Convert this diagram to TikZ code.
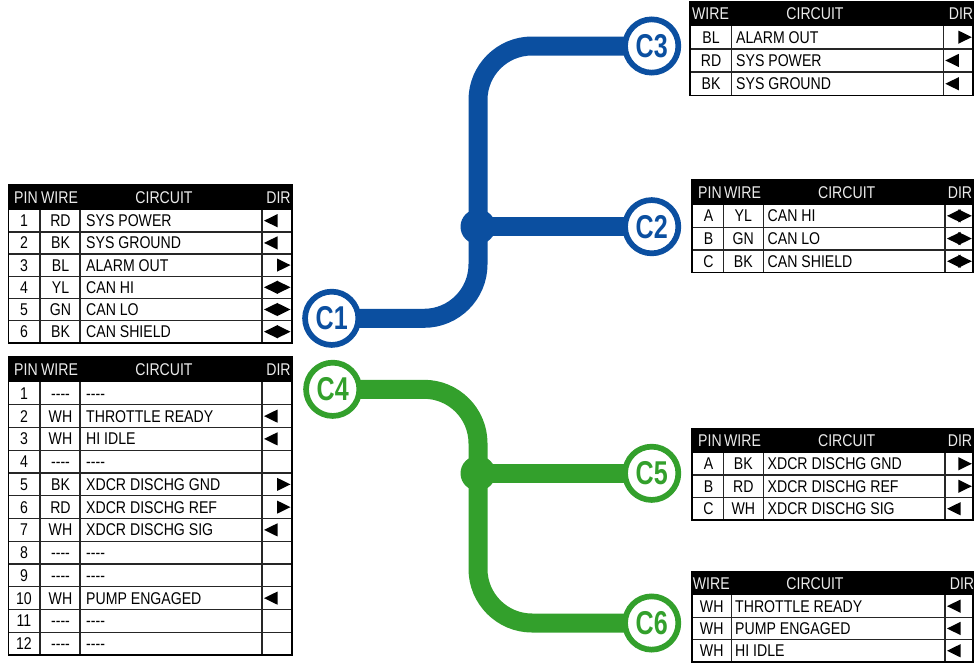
\documentclass[tikz,border=0pt]{standalone}
\usepackage{fontspec}
\newfontfamily\tabfont[FakeStretch=0.83]{Liberation Sans}
\newfontfamily\labfont[FakeStretch=0.76]{Liberation Sans}
\usetikzlibrary{backgrounds}
\definecolor{busblue}{RGB}{11,79,160}
\definecolor{busgreen}{RGB}{51,160,44}
\definecolor{hdrtext}{gray}{0.92}
\newcommand\dsh{-\kern0pt-\kern0pt-\kern0pt-}
\newcommand\triw{13.5}
\newcommand\dirL[3]{\fill (#1+2,#3) -- ++(\triw,-6.6) -- ++(0,13.2) -- cycle;}
\newcommand\dirR[3]{\fill (#2-1.5,#3) -- ++(-\triw,-6.6) -- ++(0,13.2) -- cycle;}
\newcommand\dirB[3]{\dirL{#1}{#2}{#3}\dirR{#1}{#2}{#3}}
\newcommand\dirN[3]{}
\newcommand\tblframe[7]{%
  \fill[black] (#1,#3) rectangle (#2,#4);
  \foreach \k in {1,...,#6} \draw[gl] (#1,#4+\k*#5) -- (#2,#4+\k*#5);
  \foreach \xx in {#7} \draw[gl] (\xx,#4) -- (\xx,#4+#6*#5);
  \draw[ol] (#1,#3) rectangle (#2,#4+#6*#5);
}
\begin{document}
\begin{tikzpicture}[x=1pt,y=-1pt,
  gl/.style={line width=1.4pt,draw=black!85},
  ol/.style={line width=1.7pt,draw=black},
  basefont/.style={font=\tabfont\fontsize{17}{19}\selectfont,inner sep=0pt},
  ctxt/.style={basefont,anchor=base},
  ltxt/.style={basefont,anchor=base west},
  htxt/.style={basefont,anchor=base,text=hdrtext},
  conn/.style={circle,draw=#1,fill=white,line width=5.7pt,minimum size=53.3pt,inner sep=0pt,
    font=\labfont\bfseries\fontsize{33}{33}\selectfont,text=#1},
  bus/.style={draw=#1,line width=19pt,rounded corners=54pt},
  dot/.style={fill=#1}
]
\useasboundingbox (0,0) rectangle (975,665);

% ---------- connectors ----------
\node[conn=busblue] (c1) at (331.7,318.3) {C1};
\node[conn=busblue] (c2) at (651.7,226.7) {C2};
\node[conn=busblue] (c3) at (651.7,46) {C3};
\node[conn=busgreen] (c4) at (332.7,389.3) {C4};
\node[conn=busgreen] (c5) at (651.7,473.3) {C5};
\node[conn=busgreen] (c6) at (651.7,623) {C6};
\coordinate (jb) at (478,226.7);
\coordinate (jg) at (478,473.3);
\begin{pgfonlayer}{background}
  \draw[bus=busblue] (c1.center) -| (c3.center -| jb) -- (c3.center);
  \draw[bus=busblue] (jb) -- (c2.center);
  \fill[dot=busblue] (jb) circle (17.5);
  \draw[bus=busgreen] (c4.center) -| (c6.center -| jg) -- (c6.center);
  \draw[bus=busgreen] (jg) -- (c5.center);
  \fill[dot=busgreen] (jg) circle (17.5);
\end{pgfonlayer}

% ---------- C1 table ----------
\tblframe{8.5}{292}{185}{209.6}{22.2}{6}{40,80,262}
\node[htxt] (h1p) at (26,203.3) {PIN};
\node[htxt] (h1w) at (59.5,203.3) {WIRE};
\node[htxt] (h1c) at (164,203.3) {CIRCUIT};
\node[htxt] (h1d) at (278.5,203.3) {DIR};
\foreach \pa/\wa/\ca/\da [count=\i from 0] in {1/RD/SYS POWER/L,2/BK/SYS GROUND/L,3/BL/ALARM OUT/R,4/YL/CAN HI/B,5/GN/CAN LO/B,6/BK/CAN SHIELD/B}{
  \pgfmathsetmacro\yc{209.6+(\i+0.5)*22.2}
  \node[ctxt] (a\i-p) at (24,\yc+6) {\pa};
  \node[ctxt] (a\i-w) at (60.5,\yc+6) {\wa};
  \node[ltxt] (a\i-c) at (86,\yc+6) {\ca};
  \csname dir\da\endcsname{262}{292}{\yc}
}

% ---------- C4 table ----------
\tblframe{8.5}{292}{357.3}{382}{22.75}{12}{40,80,262}
\node[htxt] (h4p) at (26,375.6) {PIN};
\node[htxt] (h4w) at (59.5,375.6) {WIRE};
\node[htxt] (h4c) at (164,375.6) {CIRCUIT};
\node[htxt] (h4d) at (278.5,375.6) {DIR};
\foreach \pa/\wa/\ca/\da [count=\i from 0] in {1/\dsh/\dsh/N,2/WH/THROTTLE READY/L,3/WH/HI IDLE/L,4/\dsh/\dsh/N,5/BK/XDCR DISCHG GND/R,6/RD/XDCR DISCHG REF/R,7/WH/XDCR DISCHG SIG/L,8/\dsh/\dsh/N,9/\dsh/\dsh/N,10/WH/PUMP ENGAGED/L,11/\dsh/\dsh/N,12/\dsh/\dsh/N}{
  \pgfmathsetmacro\yc{382+(\i+0.5)*22.75}
  \node[ctxt] (d\i-p) at (24,\yc+6) {\pa};
  \node[ctxt] (d\i-w) at (60.5,\yc+6) {\wa};
  \node[ltxt] (d\i-c) at (86,\yc+6) {\ca};
  \csname dir\da\endcsname{262}{292}{\yc}
}

% ---------- C3 table ----------
\tblframe{690}{973.3}{1.7}{25.5}{23.3}{3}{731.7,943.3}
\node[htxt] (h3w) at (710.5,19.6) {WIRE};
\node[htxt] (h3c) at (815,19.6) {CIRCUIT};
\node[htxt] (h3d) at (961,19.6) {DIR};
\foreach \wa/\ca/\da [count=\i from 0] in {BL/ALARM OUT/R,RD/SYS POWER/L,BK/SYS GROUND/L}{
  \pgfmathsetmacro\yc{25.5+(\i+0.5)*23.3}
  \node[ctxt] (b\i-w) at (711,\yc+6) {\wa};
  \node[ltxt] (b\i-c) at (736,\yc+6) {\ca};
  \csname dir\da\endcsname{943.3}{973.3}{\yc}
}

% ---------- C2 table ----------
\tblframe{691.7}{973.3}{180}{204.5}{22.7}{3}{723.3,763.3,945}
\node[htxt] (h2p) at (710,198.2) {PIN};
\node[htxt] (h2w) at (742.5,198.2) {WIRE};
\node[htxt] (h2c) at (846.7,198.2) {CIRCUIT};
\node[htxt] (h2d) at (960,198.2) {DIR};
\foreach \pa/\wa/\ca/\da [count=\i from 0] in {A/YL/CAN HI/B,B/GN/CAN LO/B,C/BK/CAN SHIELD/B}{
  \pgfmathsetmacro\yc{204.5+(\i+0.5)*22.7}
  \node[ctxt] (e\i-p) at (708.5,\yc+6) {\pa};
  \node[ctxt] (e\i-w) at (743.3,\yc+6) {\wa};
  \node[ltxt] (e\i-c) at (767.5,\yc+6) {\ca};
  \csname dir\da\endcsname{945}{973.3}{\yc}
}

% ---------- C5 table ----------
\tblframe{691.7}{973.3}{429}{452.5}{22.5}{3}{723.3,763.3,945}
\node[htxt] (h5p) at (710,446.7) {PIN};
\node[htxt] (h5w) at (742.5,446.7) {WIRE};
\node[htxt] (h5c) at (846.7,446.7) {CIRCUIT};
\node[htxt] (h5d) at (960,446.7) {DIR};
\foreach \pa/\wa/\ca/\da [count=\i from 0] in {A/BK/XDCR DISCHG GND/R,B/RD/XDCR DISCHG REF/R,C/WH/XDCR DISCHG SIG/L}{
  \pgfmathsetmacro\yc{452.5+(\i+0.5)*22.5}
  \node[ctxt] (f\i-p) at (708.5,\yc+6) {\pa};
  \node[ctxt] (f\i-w) at (743.3,\yc+6) {\wa};
  \node[ltxt] (f\i-c) at (767.5,\yc+6) {\ca};
  \csname dir\da\endcsname{945}{973.3}{\yc}
}

% ---------- C6 table ----------
\tblframe{691.7}{973.3}{571.7}{595}{22.3}{3}{731.7,945}
\node[htxt] (h6w) at (711.3,589.3) {WIRE};
\node[htxt] (h6c) at (815,589.3) {CIRCUIT};
\node[htxt] (h6d) at (962,589.3) {DIR};
\foreach \wa/\ca/\da [count=\i from 0] in {WH/THROTTLE READY/L,WH/PUMP ENGAGED/L,WH/HI IDLE/L}{
  \pgfmathsetmacro\yc{595+(\i+0.5)*22.3}
  \node[ctxt] (g\i-w) at (711.7,\yc+6) {\wa};
  \node[ltxt] (g\i-c) at (735,\yc+6) {\ca};
  \csname dir\da\endcsname{945}{973.3}{\yc}
}
\end{tikzpicture}
\end{document}
